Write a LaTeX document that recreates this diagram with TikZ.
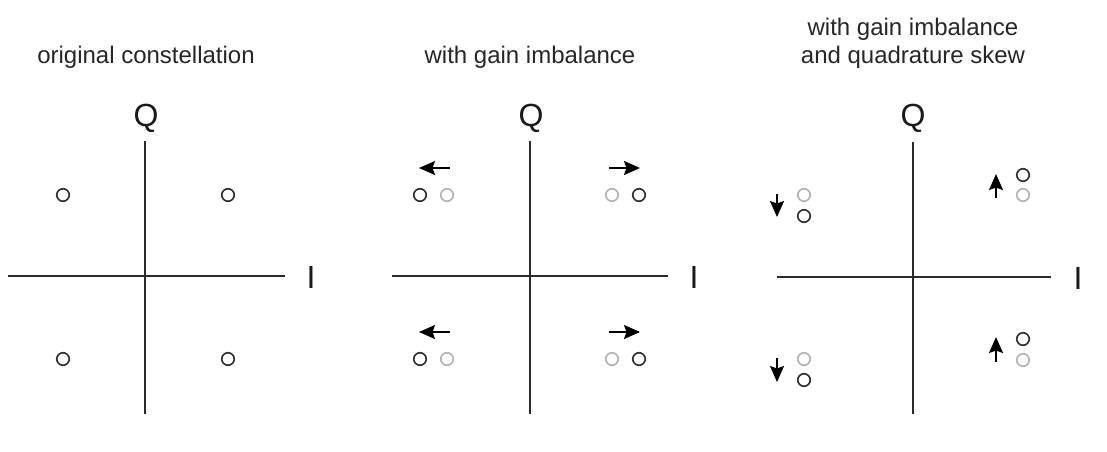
\documentclass[tikz,border=0pt]{standalone}
\usepackage{fontspec}
\setmainfont{Liberation Sans}
\usetikzlibrary{arrows.meta}
\definecolor{axisc}{HTML}{2A2A2A}
\definecolor{lightc}{HTML}{B4B4B4}
\tikzset{
  axis/.style={draw=axisc, line width=1.6pt},
  title/.style={font=\fontsize{24}{28}\selectfont, align=center, text=black!85},
  axlabel/.style={font=\fontsize{32}{36}\selectfont, text=black!90, inner sep=0pt},
  pt/.style={circle, draw=black!80, line width=1.7pt, minimum size=12.5pt, inner sep=0pt},
  ptl/.style={pt, draw=lightc},
  mv/.style={line width=1.7pt, -{Stealth[length=16pt,width=14pt,inset=2.5pt]}},
}
\begin{document}
\begin{tikzpicture}[x=1pt,y=-1pt]
\useasboundingbox (0,0) rectangle (1107,451);
% ---------- panel 1 ----------
\node[title] (t1) at (146,57) {original constellation};
\coordinate (a1t) at (145,141); \coordinate (a1b) at (145,414);
\coordinate (a1l) at (8,276); \coordinate (a1r) at (285,276);
\draw[axis] (a1t) -- (a1b);
\draw[axis] (a1l) -- (a1r);
\node[axlabel] (q1) at (146,118) {Q};
\node[axlabel] (i1) at (311,277) {I};
\node[pt] (p1a) at (63,195) {};
\node[pt] (p1b) at (228,195) {};
\node[pt] (p1c) at (63,359) {};
\node[pt] (p1d) at (228,359) {};
% ---------- panel 2 ----------
\node[title] (t2) at (530,57) {with gain imbalance};
\coordinate (a2t) at (530,141); \coordinate (a2b) at (530,414);
\coordinate (a2l) at (392,276); \coordinate (a2r) at (668,276);
\draw[axis] (a2t) -- (a2b);
\draw[axis] (a2l) -- (a2r);
\node[axlabel] (q2) at (531,118) {Q};
\node[axlabel] (i2) at (694,277) {I};
\node[pt]  (p2a) at (420,195) {};
\node[ptl] (g2a) at (447,195) {};
\node[ptl] (g2b) at (612,195) {};
\node[pt]  (p2b) at (639,195) {};
\node[pt]  (p2c) at (420,359) {};
\node[ptl] (g2c) at (447,359) {};
\node[ptl] (g2d) at (612,359) {};
\node[pt]  (p2d) at (639,359) {};
\coordinate (m2a0) at (450,168); \coordinate (m2a1) at (419,168);
\coordinate (m2b0) at (609,168); \coordinate (m2b1) at (640,168);
\coordinate (m2c0) at (450,332); \coordinate (m2c1) at (419,332);
\coordinate (m2d0) at (609,332); \coordinate (m2d1) at (640,332);
\draw[mv] (m2a0) -- (m2a1);
\draw[mv] (m2b0) -- (m2b1);
\draw[mv] (m2c0) -- (m2c1);
\draw[mv] (m2d0) -- (m2d1);
% ---------- panel 3 ----------
\node[title] (t3) at (913,43) {with gain imbalance\\and quadrature skew};
\coordinate (a3t) at (913,142); \coordinate (a3b) at (913,414);
\coordinate (a3l) at (777,277); \coordinate (a3r) at (1051,277);
\draw[axis] (a3t) -- (a3b);
\draw[axis] (a3l) -- (a3r);
\node[axlabel] (q3) at (913,118) {Q};
\node[axlabel] (i3) at (1078,278) {I};
\node[ptl] (g3a) at (804,195) {};
\node[pt]  (p3a) at (804,216) {};
\node[pt]  (p3b) at (1023,175) {};
\node[ptl] (g3b) at (1023,195) {};
\node[ptl] (g3c) at (804,359) {};
\node[pt]  (p3c) at (804,380) {};
\node[pt]  (p3d) at (1023,339) {};
\node[ptl] (g3d) at (1023,360) {};
\coordinate (m3a0) at (777,194); \coordinate (m3a1) at (777,217);
\coordinate (m3b0) at (996,198); \coordinate (m3b1) at (996,174);
\coordinate (m3c0) at (777,358); \coordinate (m3c1) at (777,382);
\coordinate (m3d0) at (996,362); \coordinate (m3d1) at (996,337);
\draw[mv] (m3a0) -- (m3a1);
\draw[mv] (m3b0) -- (m3b1);
\draw[mv] (m3c0) -- (m3c1);
\draw[mv] (m3d0) -- (m3d1);
\end{tikzpicture}
\end{document}
